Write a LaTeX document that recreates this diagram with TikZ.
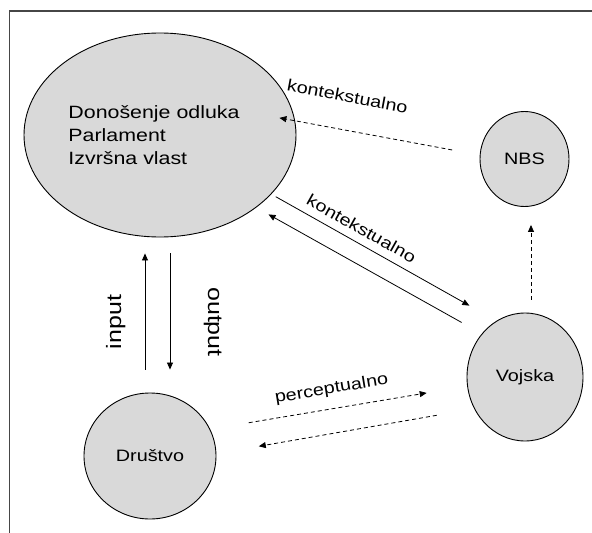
\documentclass[tikz,border=0pt]{standalone}
\usepackage{fontspec}
\setmainfont{Liberation Sans}[FakeStretch=1.2]
\usetikzlibrary{shapes.geometric,arrows.meta}
\definecolor{fillgray}{RGB}{217,217,217}
\definecolor{framegray}{RGB}{70,70,70}

\begin{document}
\begin{tikzpicture}[x=1pt,y=-1pt,
  every node/.style={font=\fontsize{16.5}{23}\selectfont},
  krug/.style={ellipse,draw,line width=0.9pt,fill=fillgray,inner sep=0pt},
  arr/.style={-{Triangle[length=7pt,width=6pt]},line width=0.8pt},
  darr/.style={arr,dash pattern=on 4pt off 3pt},
  big/.style={font=\fontsize{20.8}{25}\selectfont}]
  \useasboundingbox (0,0) rectangle (592,533);
  \draw[framegray,line width=1.2pt] (9.5,533) -- (9.5,11) -- (592,11);
  \node[krug,minimum width=272pt,minimum height=204pt,align=left,font=\fontsize{17.8}{23}\selectfont] (odluke) at (160,135) {Donošenje odluka\hspace*{12pt}\\Parlament\\Izvršna vlast};
  \node[krug,minimum width=89pt,minimum height=95pt] (nbs) at (524.5,159) {NBS};
  \node[krug,minimum width=116pt,minimum height=128pt] (vojska) at (525,377) {Vojska};
  \node[krug,minimum width=132pt,minimum height=126pt] (drustvo) at (150,456) {Društvo};
  \draw[arr,shorten <=23pt,shorten >=16pt] ([xshift=-5pt]drustvo.north) -- node[sloped,above=15.8pt,pos=0.455,big] {input} ([xshift=-5pt]drustvo.north |- odluke.south);
  \draw[arr,shorten <=16pt,shorten >=23pt] ([xshift=20pt]drustvo.north |- odluke.south) -- node[sloped,above=30pt,pos=0.545,big] {output} ([xshift=20pt]drustvo.north);
  \draw[arr,shorten <=5pt,shorten >=31pt] (odluke.-28) -- node[sloped,above=4.5pt,pos=0.37] {kontekstualno} (vojska.117);
  \draw[arr,shorten <=23pt,shorten >=14pt] (vojska.135) -- (odluke.-37);
  \draw[darr,shorten <=28pt,shorten >=-16pt] (nbs.175) -- node[sloped,above=24pt,pos=0.75] {kontekstualno} (odluke.6);
  \draw[darr,shorten <=13pt,shorten >=18pt] ([xshift=6pt]vojska.north) -- ([xshift=6pt]vojska.north |- nbs.south);
  \draw[darr,shorten <=39pt,shorten >=41pt] (drustvo.24) -- node[sloped,above=8pt,pos=0.485] {perceptualno} (vojska.-171);
  \draw[darr,shorten <=38pt,shorten >=43pt] (vojska.-148) -- (drustvo.2);
\end{tikzpicture}
\end{document}
